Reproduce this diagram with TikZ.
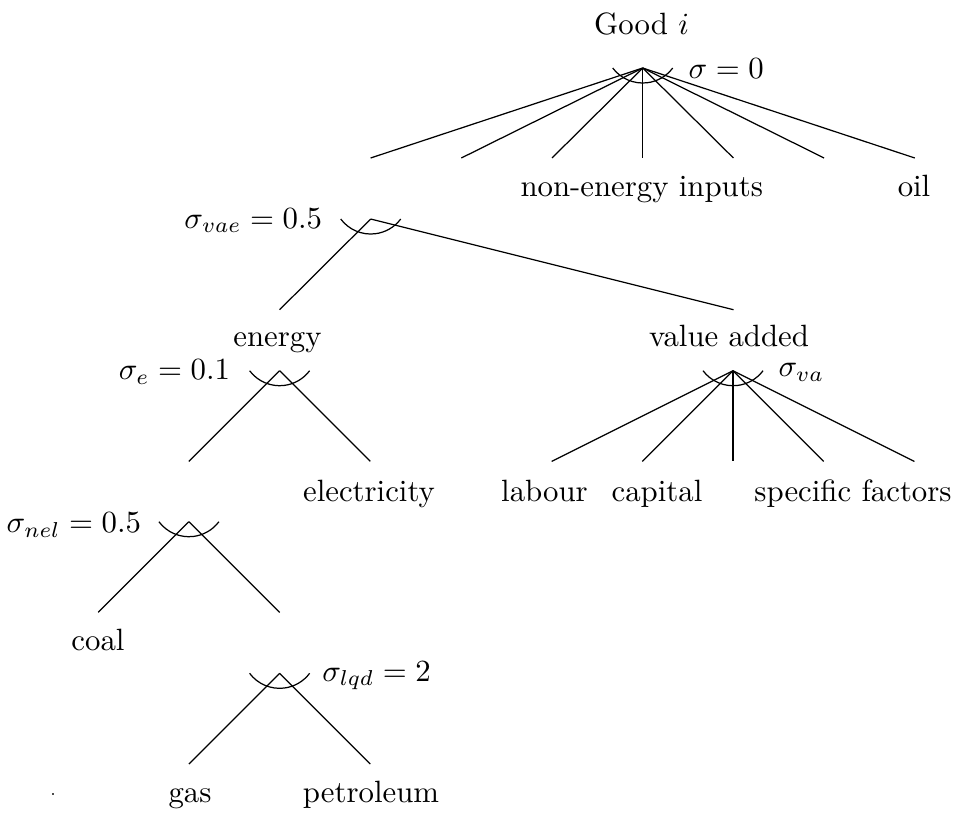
\documentclass[tikz,border=0pt]{standalone}
\begin{document}
\begin{tikzpicture}[x=0.3247pt,y=0.3247pt,line width=0.4pt,
  lbl/.style={inner sep=0pt,anchor=base},
  sigl/.style={inner sep=0pt,anchor=base east},
  sigr/.style={inner sep=0pt,anchor=base west},
  nest/.style={line width=0.4pt}]
\useasboundingbox (0,0) rectangle (960,812);
% apex points
\coordinate (A0) at (642.7,744);
\coordinate (A1) at (370.7,593);
\coordinate (A2) at (279.6,441.3);
\coordinate (A3) at (733,441.3);
\coordinate (A4) at (188.9,290.3);
\coordinate (A5) at (279.6,138.7);
% child ends of A0
\foreach \k/\n in {-3/t1,-2/t2,-1/t3,0/t4,1/t5,2/t6,3/t7}
  {\coordinate (\n) at ({642.7+\k*90.7},654);}
% child ends of A1
\coordinate (e1) at (279.6,502.3);
\coordinate (e2) at (733.5,502.3);
% child ends of A2
\coordinate (g1) at (188.9,350.6);
\coordinate (g2) at (370.3,350.6);
% child ends of A3
\foreach \k/\n in {-2/v1,-1/v2,0/v3,1/v4,2/v5}
  {\coordinate (\n) at ({733+\k*90.7},350.6);}
% child ends of A4
\coordinate (n1) at (98.2,199.6);
\coordinate (n2) at (279.6,199.6);
% child ends of A5
\coordinate (q1) at (188.9,48);
\coordinate (q2) at (370.3,48);
% connectors
\foreach \n in {t1,t2,t3,t4,t5,t6,t7} {\draw[nest] (A0) -- (\n);}
\draw[nest] (A1) -- (e1);
\draw[nest] (A1) -- (e2);
\draw[nest] (A2) -- (g1);
\draw[nest] (A2) -- (g2);
\foreach \n in {v1,v2,v3,v4,v5} {\draw[nest] (A3) -- (\n);}
\draw[nest] (A4) -- (n1);
\draw[nest] (A4) -- (n2);
\draw[nest] (A5) -- (q1);
\draw[nest] (A5) -- (q2);
% arcs
\foreach \a in {A0,A1,A2,A3,A4,A5}
  {\draw[nest] ([shift={(-30,0)}]\a) arc[start angle=216.87,end angle=323.13,radius=12.18pt];}
% labels
\node[lbl] (good) at (641.5,777) {Good $i$};
\node[lbl] (nei) at (641.7,616) {non-energy inputs};
\node[lbl] (oil) at (914,616) {oil};
\node[lbl] (energy) at (277.5,466) {energy};
\node[lbl] (va) at (729,466) {value added};
\node[lbl] (elec) at (369,311) {electricity};
\node[lbl] (lab) at (544.5,311) {labour};
\node[lbl] (cap) at (657,311) {capital};
\node[lbl] (spf) at (853,311) {specific factors};
\node[lbl] (coal) at (98,162) {coal};
\node[lbl] (gas) at (190,10) {gas};
\node[lbl] (pet) at (371,10) {petroleum};
% elasticities
\node[sigr] (s0) at (688,733.6) {$\sigma = 0$};
\node[sigl] (svae) at (322.7,584) {$\sigma_{vae} = 0.5$};
\node[sigl] (se) at (230.7,432.6) {$\sigma_e = 0.1$};
\node[sigr] (sva) at (778,435.5) {$\sigma_{va}$};
\node[sigl] (snel) at (141.7,279.3) {$\sigma_{nel} = 0.5$};
\node[sigr] (slqd) at (321.7,131) {$\sigma_{lqd} = 2$};
% small dot
\node[fill=black!70,inner sep=0pt,minimum size=0.65pt] (dot) at (52.7,18.3) {};
\end{tikzpicture}
\end{document}
